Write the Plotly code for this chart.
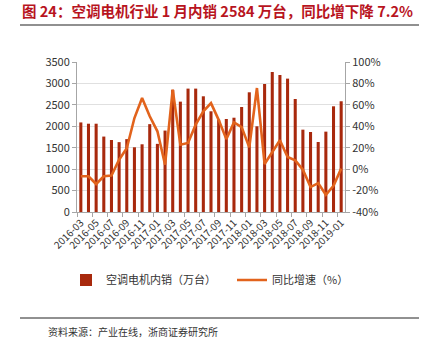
import plotly.graph_objects as go

months = ["2016-03","2016-04","2016-05","2016-06","2016-07","2016-08","2016-09","2016-10","2016-11","2016-12",
          "2017-01","2017-02","2017-03","2017-04","2017-05","2017-06","2017-07","2017-08","2017-09","2017-10",
          "2017-11","2017-12","2018-01","2018-02","2018-03","2018-04","2018-05","2018-06","2018-07","2018-08",
          "2018-09","2018-10","2018-11","2018-12","2019-01"]
sales = [2090, 2060, 2060, 1760, 1680, 1630, 1700, 1510, 1580, 2050,
         1590, 1900, 2850, 2575, 2879, 2879, 2700, 2350, 2155, 2170,
         2200, 2450, 2793, 2000, 2987, 3267, 3197, 3112, 2637, 1921,
         1867, 1633, 1875, 2466, 2584]
yoy = [-6.7, -6.7, -13.9, -6.7, -6.0, 8.8, 19.5, 47.7, 66.4, 49.3,
       35.3, 4.2, 74.2, 22.8, 24.4, 41.5, 54.0, 61.6, 46.0, 28.0,
       43.6, 39.3, 20.3, 75.7, 4.8, 16.0, 26.9, 11.3, 8.2, -0.5,
       -16.7, -13.0, -23.9, -15.5, 0.5]
left_ticks = [0, 500, 1000, 1500, 2000, 2500, 3000, 3500]
right_ticks = [-40, -20, 0, 20, 40, 60, 80, 100]

xs = list(range(len(months)))
FONT = "Noto Sans CJK SC, Noto Sans, sans-serif"

fig = go.Figure()
fig.add_trace(go.Bar(x=xs, y=sales, name="空调电机内销（万台）", legend="legend",
                     marker=dict(color="#A8290D", line=dict(width=0))))
fig.add_trace(go.Scatter(x=xs, y=yoy, name="同比增速（%）", yaxis="y2", mode="lines", legend="legend2",
                         line=dict(color="#E2631C", width=2.6)))

L, R, T, B = 77, 345, 62, 212
W, H = 421, 351
def px(x):
    return (x - L) / (R - L)
def py(y):
    return (B - y) / (B - T)

leg_common = dict(orientation="h", yanchor="middle", y=py(280), xanchor="left",
                  font=dict(size=11, color="#333333", family=FONT), itemwidth=30,
                  bgcolor="rgba(0,0,0,0)")

fig.update_layout(
    width=W, height=H,
    margin=dict(l=L, r=W - R, t=T, b=H - B, pad=0),
    paper_bgcolor="white", plot_bgcolor="white",
    font=dict(family=FONT, size=11, color="#333333"),
    bargap=0.6,
    showlegend=True,
    legend=dict(x=px(66), **leg_common),
    legend2=dict(x=px(232), **leg_common),
    xaxis=dict(range=[-0.5, len(months) - 0.5], tickmode="array",
               tickvals=xs[::2], ticktext=months[::2], tickangle=-45,
               ticks="", showgrid=False, showline=True, linecolor="#A6A6A6", linewidth=1,
               tickfont=dict(size=10, family=FONT, color="#333333"),
               minor=dict(tick0=-0.5, dtick=2, ticks="outside", ticklen=4, tickcolor="#A6A6A6", showgrid=False)),
    yaxis=dict(range=[0, 3500], tickvals=left_ticks, showgrid=True, gridcolor="#E0E0E0",
               showline=True, linecolor="#A6A6A6", ticks="outside", ticklen=4, tickcolor="#A6A6A6",
               zeroline=False, tickfont=dict(size=11, family=FONT, color="#333333")),
    yaxis2=dict(range=[-40, 100], tickvals=right_ticks, ticktext=[f"{v}%" for v in right_ticks],
                overlaying="y", side="right", showgrid=False, showline=True, linecolor="#A6A6A6",
                ticks="outside", ticklen=4, tickcolor="#A6A6A6", zeroline=False,
                tickfont=dict(size=11, family=FONT, color="#333333")),
)

fig.add_annotation(text="<b>图 24：空调电机行业 1 月内销 2584 万台，同比增下降 7.2%</b>",
                   xref="paper", yref="paper", x=px(20), y=py(10), xanchor="left", yanchor="middle",
                   showarrow=False, font=dict(size=14.5, color="#B8141E", family=FONT))
fig.add_annotation(text="资料来源：产业在线，浙商证券研究所",
                   xref="paper", yref="paper", x=px(46), y=py(331), xanchor="left", yanchor="middle",
                   showarrow=False, font=dict(size=10, color="#333333", family=FONT))
fig.add_shape(type="line", xref="paper", yref="paper", x0=px(20), x1=px(419), y0=py(25), y1=py(25),
              line=dict(color="#222222", width=1.2))
fig.add_shape(type="line", xref="paper", yref="paper", x0=px(20), x1=px(419), y0=py(318), y1=py(318),
              line=dict(color="#222222", width=1))

fig.write_html("out.html")
